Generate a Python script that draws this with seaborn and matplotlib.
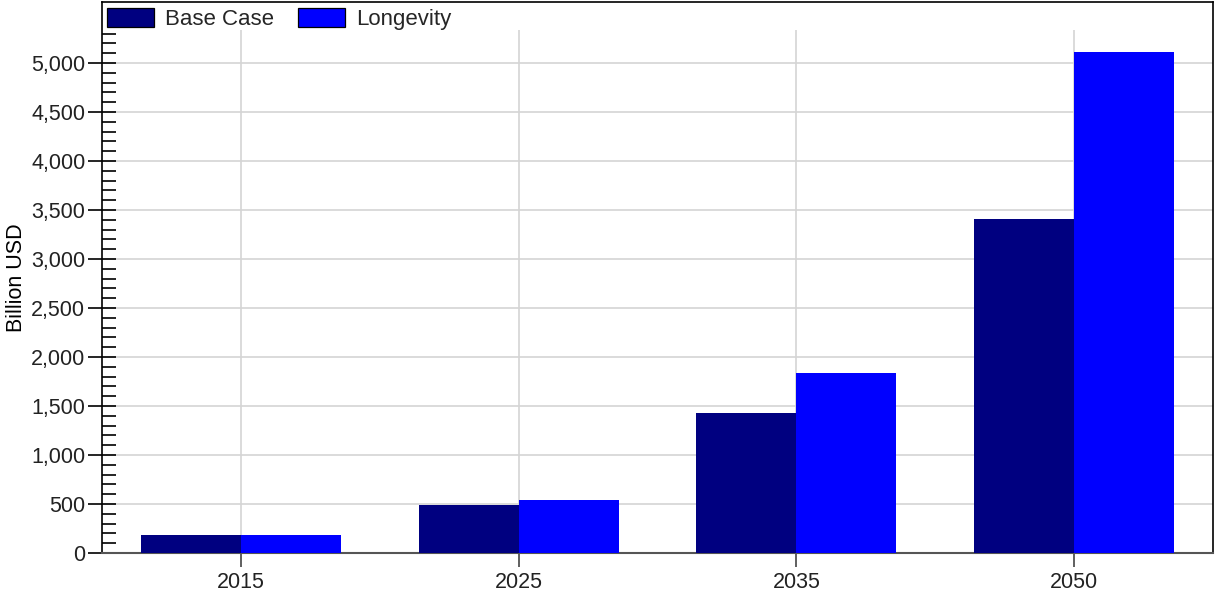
import matplotlib
matplotlib.use("Agg")
import matplotlib.pyplot as plt
import matplotlib.ticker as mticker
from matplotlib.patches import Patch
import seaborn as sns
import pandas as pd

# values (Billion USD)
years = ["2015", "2025", "2035", "2050"]
base_case = [180, 490, 1430, 3410]
longevity = [185, 540, 1840, 5110]
scenarios = ["Base Case", "Longevity"]
colors = ["#000080", "#0000FF"]

df = pd.DataFrame({
    "year": years * 2,
    "value": base_case + longevity,
    "scenario": [scenarios[0]] * len(years) + [scenarios[1]] * len(years),
})

sns.set_style("white")
plt.rcParams["font.family"] = ["Liberation Sans", "DejaVu Sans"]

fig = plt.figure(figsize=(12.15, 5.92), dpi=100)
ax = fig.add_axes([102 / 1215, 39 / 592, 1111 / 1215, 551 / 592])

sns.barplot(data=df, x="year", y="value", hue="scenario", palette=colors,
            width=0.72, saturation=1, edgecolor="none", linewidth=0,
            legend=False, ax=ax, zorder=3)

ax.set_xlim(-0.5, 3.5)
ax.set_ylim(0, 5622)

# grid: horizontal at major ticks, vertical at category centres
for y in range(500, 5001, 500):
    ax.axhline(y, color="#d4d4d4", lw=1.2, zorder=0)
ax.vlines(range(len(years)), 0, 5340, color="#d4d4d4", lw=1.2, zorder=0)

ax.yaxis.set_major_locator(mticker.FixedLocator(range(0, 5001, 500)))
ax.yaxis.set_minor_locator(mticker.FixedLocator(
    [v for v in range(100, 5301, 100) if v % 500 != 0]))
ax.yaxis.set_major_formatter(mticker.StrMethodFormatter("{x:,.0f}"))
ax.tick_params(axis="y", which="major", direction="inout", length=20,
               width=1.2, color="black", labelsize=15.5, pad=2,
               labelcolor="#222222")
ax.tick_params(axis="y", which="minor", direction="in", length=10,
               width=1.2, color="black")
ax.tick_params(axis="x", which="major", direction="out", length=10,
               width=1.2, color="#444444", labelsize=15.5, pad=4,
               labelcolor="#222222")
ax.yaxis.set_ticks_position("left")
ax.xaxis.set_ticks_position("bottom")

for side in ["left", "top", "right"]:
    ax.spines[side].set_color("black")
    ax.spines[side].set_linewidth(1.2)
ax.spines["bottom"].set_color("#555555")
ax.spines["bottom"].set_linewidth(1.5)

ax.set_xlabel("")
ax.set_ylabel("Billion USD", fontsize=15.5, labelpad=3, color="black")

handles = [Patch(facecolor=c, edgecolor="black", linewidth=0.9) for c in colors]
ax.legend(handles, scenarios, loc="upper left", bbox_to_anchor=(-0.0095, 1.017),
          ncol=2, frameon=False, handlelength=2.1,
          handleheight=0.95, handletextpad=0.5, columnspacing=1.1,
          borderaxespad=0.3, prop={"size": 16})

fig.savefig("out.png", dpi=100)
